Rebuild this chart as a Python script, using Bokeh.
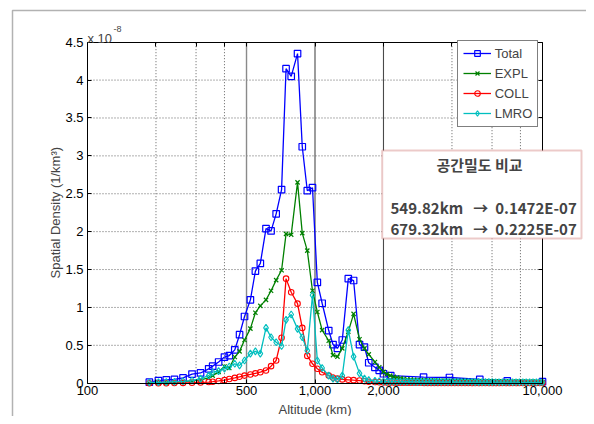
import math
from bokeh.plotting import figure
from bokeh.models import (Range1d, FixedTicker, LinearAxis, LogAxis, LogScale, Label,
                          BoxAnnotation, Legend, LegendItem)
from bokeh.embed import file_html
from bokeh.resources import INLINE

# ---- data (values in units of 1e-8 /km^3) ----
alt_total = [187, 205, 222, 241, 263, 288, 314, 341, 355, 377,
             400, 420, 444, 466, 490, 520, 547, 575, 609, 641,
             675, 713, 746, 786, 838, 879, 925, 975, 1024, 1075,
             1149, 1200, 1255, 1318, 1401, 1478, 1569, 1650, 1723, 1834,
             1916, 2000, 2152, 3000, 3900, 5300, 7000, 10000]
total = [0.013, 0.035, 0.045, 0.05, 0.07, 0.12, 0.135, 0.19, 0.225, 0.28,
         0.345, 0.365, 0.44, 0.64, 0.88, 1.10, 1.48, 1.58, 2.04, 2.01,
         2.235, 2.555, 4.15, 4.05, 4.35, 3.12, 2.54, 2.58, 1.33, 1.055,
         0.695, 0.51, 0.46, 0.57, 1.38, 1.355, 0.51, 0.475, 0.27, 0.21,
         0.17, 0.125, 0.10, 0.08, 0.075, 0.05, 0.03, 0.02]

alt_comp = [187, 205, 222, 241, 263, 288, 314, 341, 355, 377,
            400, 420, 444, 466, 490, 520, 547, 575, 609, 641,
            675, 713, 746, 786, 838, 879, 925, 975, 1024, 1075,
            1149, 1200, 1255, 1318, 1401, 1478, 1569, 1650, 1723, 1834,
            1916, 2000, 2070, 2142, 2217, 2295, 2375, 2458, 2544, 2633,
            2725, 2821, 2919, 3022, 3127, 3237, 3350, 3467, 3589, 3714,
            3844, 3979, 4118, 4262, 4411, 4566, 4725, 4891, 5062, 5239,
            5422, 5612, 5809, 6012, 6222, 6440, 6666, 6899, 7140, 7390,
            7649, 7917, 8194, 8480, 8777, 9084, 9402, 9731, 10000]
expl = [0.0, 0.005, 0.008, 0.012, 0.02, 0.03, 0.045, 0.07, 0.10, 0.15,
        0.22, 0.20, 0.345, 0.42, 0.57, 0.72, 0.93, 1.02, 1.10, 1.22,
        1.36, 1.49, 1.97, 1.96, 2.65, 1.98, 1.75, 1.22, 0.94, 0.70,
        0.56, 0.37, 0.35, 0.46, 0.68, 0.915, 0.58, 0.46, 0.38, 0.28,
        0.21, 0.15, 0.12, 0.10, 0.085, 0.075, 0.065, 0.058, 0.052, 0.048,
        0.045, 0.042, 0.04, 0.038, 0.036, 0.035, 0.034, 0.033, 0.032, 0.031,
        0.03, 0.03, 0.029, 0.028, 0.028, 0.027, 0.026, 0.026, 0.025, 0.025,
        0.024, 0.024, 0.023, 0.023, 0.022, 0.022, 0.021, 0.021, 0.02, 0.02,
        0.02, 0.019, 0.019, 0.018, 0.018, 0.017, 0.017, 0.016, 0.016]
coll = [0.0, 0.0, 0.0, 0.002, 0.004, 0.006, 0.01, 0.015, 0.02, 0.03,
        0.04, 0.055, 0.07, 0.085, 0.10, 0.115, 0.13, 0.145, 0.168, 0.225,
        0.30, 0.60, 1.38, 1.20, 1.05, 0.73, 0.36, 0.256, 0.19, 0.145,
        0.10, 0.075, 0.06, 0.05, 0.045, 0.04, 0.035, 0.025, 0.02, 0.015,
        0.012, 0.01, 0.009, 0.008, 0.008, 0.007, 0.007, 0.006, 0.006, 0.005,
        0.005, 0.005, 0.005, 0.004, 0.004, 0.004, 0.004, 0.004, 0.003, 0.003,
        0.003, 0.003, 0.003, 0.003, 0.003, 0.003, 0.003, 0.002, 0.002, 0.002,
        0.002, 0.002, 0.002, 0.002, 0.002, 0.002, 0.002, 0.002, 0.002, 0.002,
        0.002, 0.002, 0.002, 0.002, 0.002, 0.002, 0.002, 0.002, 0.002]
lmro = [0.01, 0.012, 0.015, 0.02, 0.025, 0.035, 0.06, 0.10, 0.145, 0.16,
        0.19, 0.22, 0.256, 0.235, 0.30, 0.39, 0.42, 0.39, 0.73, 0.607,
        0.54, 0.49, 0.836, 0.906, 0.717, 0.607, 0.43, 1.16, 0.30, 0.20,
        0.10, 0.06, 0.05, 0.10, 0.70, 0.35, 0.13, 0.06, 0.04, 0.03,
        0.025, 0.022, 0.021, 0.021, 0.02, 0.02, 0.02, 0.019, 0.019, 0.019,
        0.018, 0.018, 0.018, 0.018, 0.017, 0.017, 0.017, 0.017, 0.016, 0.016,
        0.016, 0.016, 0.016, 0.015, 0.015, 0.015, 0.015, 0.015, 0.014, 0.014,
        0.014, 0.014, 0.014, 0.014, 0.013, 0.013, 0.013, 0.013, 0.013, 0.013,
        0.013, 0.012, 0.012, 0.012, 0.012, 0.012, 0.012, 0.012, 0.012]

x_ticks = [100, 200, 300, 400, 500, 1000, 2000, 4000, 6000, 8000, 10000]
x_tick_labels = ["100", "", "", "", "500", "1,000", "2,000", "", "", "", "10,000"]
dotted_x = [200, 300, 400, 4000, 6000, 8000]
solid_x_light = [500]
solid_x_dark = [1000, 2000]
y_ticks = [0, 0.5, 1, 1.5, 2, 2.5, 3, 3.5, 4, 4.5]
y_tick_labels = ["0", "0.5", "1", "1.5", "2", "2.5", "3", "3.5", "4", "4.5"]
dotted_y = [0.5, 1, 1.5, 2, 2.5, 3, 3.5, 4]

series_names = ["Total", "EXPL", "COLL", "LMRO"]
series_colors = ["#0000ff", "#008000", "#ff0000", "#00bfbf"]

NB = "\u00a0"
note_title = "공간밀도 비교"
note_lines = ["549.82km" + NB * 3 + "→" + NB * 2 + "0.1472E-07",
              "679.32km" + NB * 3 + "→" + NB * 2 + "0.2225E-07"]

FONT = "Liberation Sans"
KFONT = "Noto Sans CJK KR"
W, H = 586, 416

# layout of the axes box on the canvas (pixels)
BX0, BX1, BY0, BY1 = 87.0, 542.0, 41.7, 382.7   # left, right, top, bottom
XMIN, XMAX, YMIN, YMAX = 100.0, 10000.0, 0.0, 4.5
px_per_dec = (BX1 - BX0) / (math.log10(XMAX) - math.log10(XMIN))
px_per_unit = (BY1 - BY0) / (YMAX - YMIN)
x_start = 10 ** (math.log10(XMIN) - BX0 / px_per_dec)
x_end = 10 ** (math.log10(XMAX) + (W - BX1) / px_per_dec)
y_start = YMIN - (H - BY1) / px_per_unit
y_end = YMAX + BY0 / px_per_unit


def sy(page_y):
    return H - page_y


p = figure(width=W, height=H, x_axis_type=None, y_axis_type=None,
           x_range=Range1d(x_start, x_end), y_range=Range1d(y_start, y_end),
           output_backend="svg", toolbar_location=None, min_border=0)
p.x_scale = LogScale()
p.background_fill_color = "white"
p.border_fill_color = "white"
p.outline_line_color = None
p.xgrid.visible = False
p.ygrid.visible = False


def style_axis(ax, labels):
    ax.major_label_text_font = FONT
    ax.major_label_text_font_size = "13px"
    ax.major_label_text_color = "black"
    ax.major_tick_in = 4
    ax.major_tick_out = 0
    ax.minor_tick_in = 0
    ax.minor_tick_out = 0
    ax.axis_line_color = "black"
    ax.axis_line_width = 1
    ax.major_tick_line_color = "black"
    ax.major_label_overrides = labels


bottom = LogAxis(ticker=FixedTicker(ticks=x_ticks), fixed_location=YMIN, bounds=(XMIN, XMAX))
style_axis(bottom, {t: l for t, l in zip(x_ticks, x_tick_labels)})
bottom.major_label_standoff = 3
top = LogAxis(ticker=FixedTicker(ticks=x_ticks), fixed_location=YMAX, bounds=(XMIN, XMAX))
style_axis(top, {t: "" for t in x_ticks})
left = LinearAxis(ticker=FixedTicker(ticks=y_ticks), fixed_location=XMIN, bounds=(YMIN, YMAX))
style_axis(left, {t: l for t, l in zip(y_ticks, y_tick_labels)})
left.major_label_standoff = 4
right = LinearAxis(ticker=FixedTicker(ticks=y_ticks), fixed_location=XMAX, bounds=(YMIN, YMAX))
style_axis(right, {t: "" for t in y_ticks})
p.add_layout(bottom, "below")
p.add_layout(top, "above")
p.add_layout(left, "left")
p.add_layout(right, "right")

# grid lines
p.segment(x0=dotted_x, y0=[YMIN] * len(dotted_x), x1=dotted_x, y1=[YMAX] * len(dotted_x),
          line_color="#606060", line_dash="1 2", line_width=1)
p.segment(x0=[XMIN] * len(dotted_y), y0=dotted_y, x1=[XMAX] * len(dotted_y), y1=dotted_y,
          line_color="#606060", line_dash="1 2", line_width=1)
p.segment(x0=solid_x_light, y0=[YMIN] * len(solid_x_light), x1=solid_x_light,
          y1=[YMAX] * len(solid_x_light), line_color="#8a8a8a", line_width=1.4)
p.segment(x0=solid_x_dark, y0=[YMIN] * len(solid_x_dark), x1=solid_x_dark,
          y1=[YMAX] * len(solid_x_dark), line_color="#4a4a4a", line_width=1.1)

# series
items = []
r = p.line(alt_total, total, line_color=series_colors[0], line_width=1.3)
m = p.scatter(alt_total, total, marker="square", size=6.5, line_color=series_colors[0],
              fill_color=None, line_width=1.2)
items.append(LegendItem(label=series_names[0], renderers=[r, m]))
r = p.line(alt_comp, expl, line_color=series_colors[1], line_width=1.3)
m = p.scatter(alt_comp, expl, marker="x", size=6, line_color=series_colors[1], line_width=1.2)
items.append(LegendItem(label=series_names[1], renderers=[r, m]))
r = p.line(alt_comp, coll, line_color=series_colors[2], line_width=1.3)
m = p.scatter(alt_comp, coll, marker="circle", size=5.5, line_color=series_colors[2],
              fill_color=None, line_width=1.1)
items.append(LegendItem(label=series_names[2], renderers=[r, m]))
r = p.line(alt_comp, lmro, line_color=series_colors[3], line_width=1.3)
m = p.scatter(alt_comp, lmro, marker="diamond", size=7, line_color=series_colors[3],
              fill_color=None, line_width=1.1)
items.append(LegendItem(label=series_names[3], renderers=[r, m]))

legend = Legend(items=items, location=(456.7, sy(126.7)), glyph_width=28, glyph_height=14,
                label_height=14, label_standoff=4, spacing=5, padding=5, margin=0,
                label_text_font=FONT, label_text_font_size="13px",
                border_line_color="black", border_line_width=1,
                background_fill_color="white", background_fill_alpha=1)
p.add_layout(legend)

# axis titles and exponent
p.add_layout(Label(x=(BX0 + BX1) / 2, y=sy(408.5), x_units="screen", y_units="screen",
                   text="Altitude (km)", text_font=FONT, text_font_size="13px",
                   text_align="center", text_baseline="alphabetic"))
p.add_layout(Label(x=55, y=H - (BY0 + BY1) / 2, x_units="screen", y_units="screen",
                   text="Spatial Density (1/km³)", text_font=FONT, text_font_size="13px",
                   text_align="center", text_baseline="middle", angle=math.pi / 2))
p.add_layout(Label(x=87, y=sy(37.5), x_units="screen", y_units="screen", text="x 10",
                   text_font=FONT, text_font_size="13px", text_baseline="alphabetic"))
p.add_layout(Label(x=113, y=sy(28.5), x_units="screen", y_units="screen", text="-8",
                   text_font=FONT, text_font_size="9px", text_baseline="alphabetic"))

# annotation box
p.add_layout(BoxAnnotation(left=381.7, right=581, top=sy(150), bottom=sy(238),
                           left_units="screen", right_units="screen",
                           top_units="screen", bottom_units="screen",
                           fill_color="white", fill_alpha=1,
                           line_color="#c0504d", line_width=2, level="overlay"))
p.add_layout(Label(x=479, y=sy(164), x_units="screen", y_units="screen", text=note_title,
                   text_font=KFONT, text_font_size="15px", text_font_style="bold",
                   text_align="center", text_baseline="middle", level="overlay"))
p.add_layout(Label(x=390, y=sy(206.7), x_units="screen", y_units="screen", text=note_lines[0],
                   text_font=KFONT, text_font_size="15px", text_font_style="bold",
                   text_baseline="alphabetic", level="overlay"))
p.add_layout(Label(x=390, y=sy(228), x_units="screen", y_units="screen", text=note_lines[1],
                   text_font=KFONT, text_font_size="15px", text_font_style="bold",
                   text_baseline="alphabetic", level="overlay"))

# outer frame
p.add_layout(BoxAnnotation(left=12, right=W + 20, top=sy(10), bottom=-20,
                           left_units="screen", right_units="screen",
                           top_units="screen", bottom_units="screen",
                           fill_color=None, line_color="black", line_width=1.5,
                           level="overlay"))

open("out.html", "w").write(file_html(p, INLINE))
